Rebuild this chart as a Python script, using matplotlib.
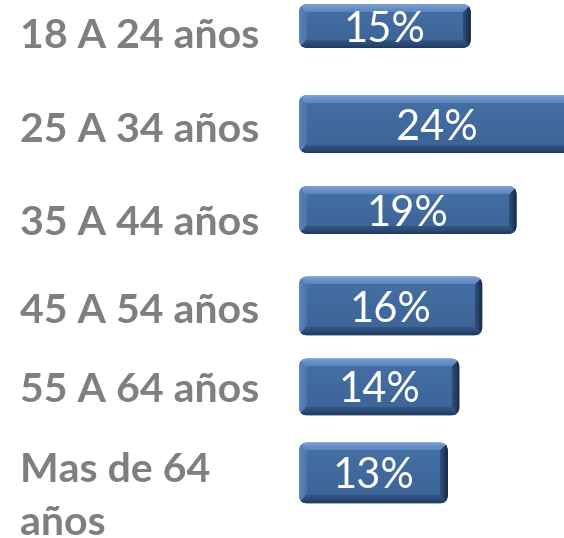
import numpy as np
import matplotlib
matplotlib.use("Agg")
import matplotlib.pyplot as plt
from matplotlib.patches import FancyBboxPatch
from matplotlib.transforms import blended_transform_factory

# data
categories = ["18 A 24 años", "25 A 34 años", "35 A 44 años",
              "45 A 54 años", "55 A 64 años", "Mas de 64\naños"]
values = [15, 24, 19, 16, 14, 13]

# layout (pixels from top of the figure)
bar_centers = [26, 124, 210, 306, 387, 473]
bar_heights = [44, 58, 48, 59, 57, 61]
label_baselines = [48, 142, 235, 323, 402, 535]

W_PX, H_PX = 564, 538
PX_PER_PCT = 11.45
X0_PX = 299

fig = plt.figure(figsize=(W_PX / 100, H_PX / 100), dpi=100)
ax = fig.add_axes([0, 0, 1, 1])
ax.set_xlim(-X0_PX / PX_PER_PCT, (W_PX - X0_PX) / PX_PER_PCT)
ax.set_ylim(H_PX, 0)
ax.axis("off")


def hex2rgb(h):
    h = h.lstrip("#")
    return np.array([int(h[i:i + 2], 16) / 255 for i in (0, 2, 4)])


def bevel_image(w, h, b=8):
    # soft bevel look, like the office bar preset
    yy, xx = np.mgrid[0:h, 0:w]
    dt, db = yy, h - 1 - yy
    dl, dr = xx, w - 1 - xx
    img = np.zeros((h, w, 3))
    t = (yy / max(h - 1, 1))[..., None]
    img[:] = hex2rgb("#4670a5") * (1 - t) + hex2rgb("#3c6396") * t
    d = np.stack([dt, db * 1.1, dl * 1.3, dr * 1.1])
    edge = np.argmin(d, axis=0)
    dmin = np.min(np.stack([dt, db, dl, dr]), axis=0)
    inside = dmin < b
    f = (np.clip(dmin / b, 0, 1) ** 0.7)[..., None]
    cols = {
        0: (hex2rgb("#7fa3d3"), hex2rgb("#5a84bb")),
        1: (hex2rgb("#23395a"), hex2rgb("#33588a")),
        2: (hex2rgb("#5d86bd"), hex2rgb("#4a76ad")),
        3: (hex2rgb("#15233a"), hex2rgb("#2f5281")),
    }
    for k, (c_out, c_in) in cols.items():
        m = inside & (edge == k)
        blend = c_out * (1 - f) + c_in * f
        img[m] = blend[m]
    return img


for v, yc, hh in zip(values, bar_centers, bar_heights):
    y0 = yc - hh / 2
    patch = FancyBboxPatch((0, y0), v, hh,
                           boxstyle="round,pad=0,rounding_size=0.75",
                           mutation_aspect=PX_PER_PCT,
                           facecolor="#3f6598", edgecolor="none", zorder=2)
    ax.add_patch(patch)
    w_px = int(round(v * PX_PER_PCT))
    im = ax.imshow(bevel_image(w_px, int(hh)), extent=(0, v, y0 + hh, y0),
                   aspect="auto", interpolation="bilinear", zorder=3)
    im.set_clip_path(patch)
    ax.text(v / 2, yc, f"{v}%", color="white", fontsize=30,
            family="Lato", ha="center", va="center_baseline", zorder=4)

trans = blended_transform_factory(ax.transAxes, ax.transData)
for lab, yb in zip(categories, label_baselines):
    ax.text(20 / W_PX, yb, lab, transform=trans, color="#7f7f7f",
            fontsize=29.5, family="Lato", fontweight="bold",
            ha="left", va="baseline", linespacing=1.52)

fig.savefig("out.png", dpi=100)
